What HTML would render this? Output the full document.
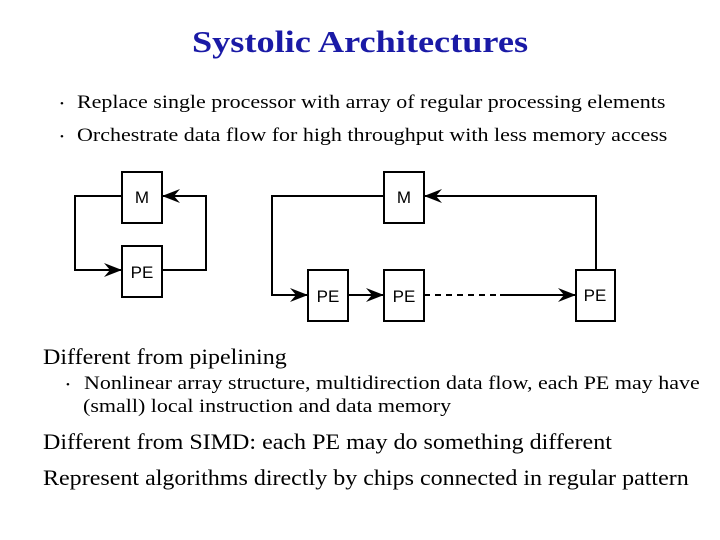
<!DOCTYPE html>
<html><head><style>
body{margin:0;width:720px;height:540px;background:#fff;position:relative;font-family:"Liberation Serif",serif;overflow:hidden}
.t{position:absolute;white-space:nowrap;color:#000;transform-origin:0 0}
.s{transform:scaleX(1.157)}
.b{transform:scaleX(1.092)}
.d{position:absolute;font-size:11px}
</style></head><body>
<div class="t" style="left:0;width:720px;text-align:center;top:24px;font-size:31px;font-weight:bold;color:#1a1aa6;transform:scaleX(1.17);transform-origin:360px 0">Systolic Architectures</div>
<div class="d" style="left:60px;top:98px">•</div>
<div class="t s" style="left:77px;top:92px;font-size:19px">Replace single processor with array of regular processing elements</div>
<div class="d" style="left:60px;top:131px">•</div>
<div class="t s" style="left:77px;top:125px;font-size:19px">Orchestrate data flow for high throughput with less memory access</div>
<svg style="position:absolute;left:0;top:0" width="720" height="540">
<defs><marker id="a" markerWidth="18" markerHeight="14" refX="17" refY="7" orient="auto" markerUnits="userSpaceOnUse"><path d="M0,0 L18,7 L0,14 L6,7 Z" fill="#000"/></marker></defs>
<g fill="none" stroke="#000" stroke-width="2">
<rect x="122" y="172" width="40" height="51"/>
<rect x="122" y="246" width="40" height="51"/>
<polyline points="122,196 75,196 75,270 121,270" marker-end="url(#a)"/>
<polyline points="162,270 206,270 206,196 163,196" marker-end="url(#a)"/>
<rect x="384" y="172" width="40" height="51"/>
<rect x="308" y="270" width="40" height="51"/>
<rect x="384" y="270" width="40" height="51"/>
<rect x="576" y="270" width="39" height="51"/>
<polyline points="384,196 272,196 272,295 307,295" marker-end="url(#a)"/>
<line x1="348" y1="295" x2="383" y2="295" marker-end="url(#a)"/>
<line x1="424" y1="295" x2="500" y2="295" stroke-dasharray="6,5"/>
<line x1="500" y1="295" x2="575" y2="295" marker-end="url(#a)"/>
<polyline points="596,270 596,196 425,196" marker-end="url(#a)"/>
</g>
<g font-family="Liberation Sans,sans-serif" font-size="17" text-anchor="middle">
<text x="142" y="203">M</text><text x="142" y="278">PE</text>
<text x="404" y="203">M</text><text x="328" y="302">PE</text><text x="404" y="302">PE</text><text x="595" y="301">PE</text>
</g>
</svg>
<div class="t b" style="left:43px;top:344px;font-size:22px">Different from pipelining</div>
<div class="d" style="left:66px;top:379px">•</div>
<div class="t s" style="left:84px;top:373px;font-size:19px">Nonlinear array structure, multidirection data flow, each PE may have</div>
<div class="t s" style="left:83px;top:396px;font-size:19px">(small) local instruction and data memory</div>
<div class="t b" style="left:43px;top:429px;font-size:22px">Different from SIMD: each PE may do something different</div>
<div class="t b" style="left:43px;top:465px;font-size:22px">Represent algorithms directly by chips connected in regular pattern</div>
</body></html>
